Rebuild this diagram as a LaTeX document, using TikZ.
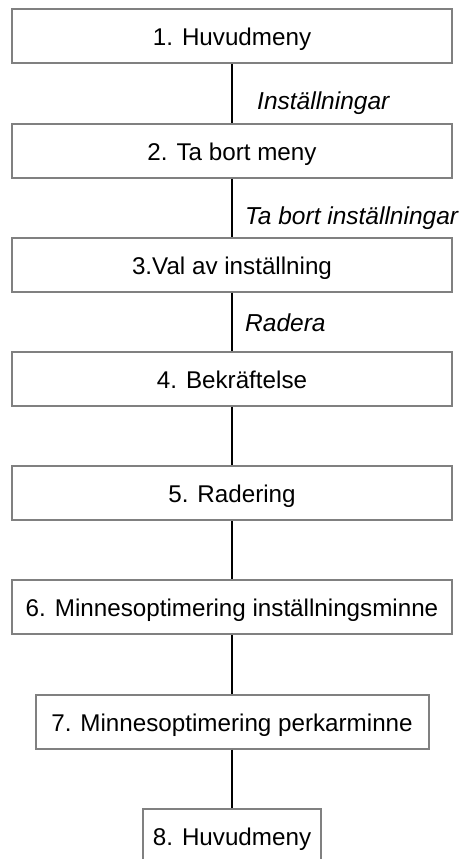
\documentclass[tikz,border=0pt]{standalone}
\usepackage{fontspec}
\setmainfont{Liberation Sans}
\definecolor{boxgray}{HTML}{808080}
\begin{document}
\begin{tikzpicture}[x=1pt,y=1pt,
  stepbox/.style={draw=boxgray, line width=2pt, fill=white, anchor=north,
    inner xsep=0pt, inner ysep=0pt, text height=36.5pt, text depth=17.5pt,
    font=\fontsize{24.2}{28}\selectfont},
  link/.style={draw=black, line width=2pt},
  linklabel/.style={anchor=base west, inner sep=0pt,
    font=\fontsize{24.5}{28}\selectfont\itshape}]
\useasboundingbox (0,0) rectangle (474,-859);

\node[stepbox, minimum width=440pt] (b1) at (232,-8.3) {1. Huvudmeny};
\node[stepbox, minimum width=440pt] (b2) at (232,-122.5) {2. Ta bort meny};
\node[stepbox, minimum width=440pt] (b3) at (232,-236.7) {3.Val av inställning};
\node[stepbox, minimum width=440pt] (b4) at (232,-350.9) {4. Bekräftelse};
\node[stepbox, minimum width=440pt] (b5) at (232,-465.1) {5. Radering};
\node[stepbox, minimum width=440pt] (b6) at (232,-579.3) {6. Minnesoptimering inställningsminne};
\node[stepbox, minimum width=393pt] (b7) at (232,-693.5) {7. Minnesoptimering perkarminne};
\node[stepbox, minimum width=178pt] (b8) at (232,-807.7) {8. Huvudmeny};

\draw[link] (b1.south) -- (b2.north);
\draw[link] (b2.south) -- (b3.north);
\draw[link] (b3.south) -- (b4.north);
\draw[link] (b4.south) -- (b5.north);
\draw[link] (b5.south) -- (b6.north);
\draw[link] (b6.south) -- (b7.north);
\draw[link] (b7.south) -- (b8.north);

\node[linklabel] (l1) at (257,-109.3) {Inställningar};
\node[linklabel] (l2) at (245,-224) {Ta bort inställningar};
\node[linklabel] (l3) at (245,-331.5) {Radera};
\end{tikzpicture}
\end{document}
